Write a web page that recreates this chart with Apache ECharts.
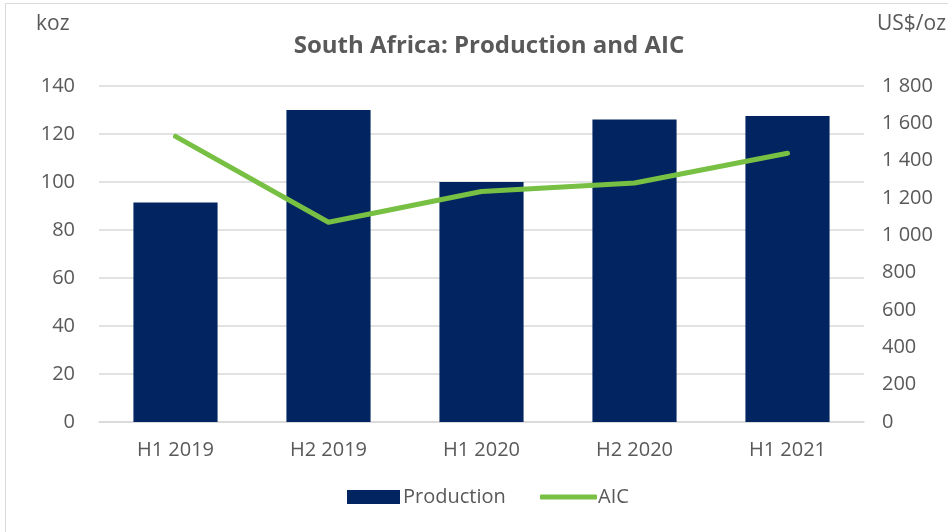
<!DOCTYPE html>
<html>
<head>
<meta charset="utf-8">
<script src="https://cdn.jsdelivr.net/npm/echarts@6/dist/echarts.min.js"></script>
<style>
  html, body { margin: 0; padding: 0; background: #fff; }
  #chart { width: 948px; height: 532px; }
</style>
</head>
<body>
<div id="chart"></div>
<script>
// Half-year periods
const categories = ['H1 2019', 'H2 2019', 'H1 2020', 'H2 2020', 'H1 2021'];
// Production, koz
const production = [91.5, 130, 100, 126, 127.5];
// All-in cost, US$/oz
const aic = [1530, 1070, 1235, 1280, 1440];

const FONT = "'Open Sans', sans-serif";
const TEXT = '#595959';
const BAR = '#022561';
const LINE = '#77c043';

const chart = echarts.init(document.getElementById('chart'));
chart.setOption({
  backgroundColor: '#fff',
  animation: false,
  textStyle: { fontFamily: FONT },
  title: {
    text: 'South Africa: Production and AIC',
    left: 484, top: 29, textAlign: 'center',
    textStyle: { fontFamily: FONT, fontSize: 24, fontWeight: 'bold', color: TEXT }
  },
  graphic: [
    { type: 'rect', shape: { x: 5.5, y: 3.5, width: 960, height: 540 },
      style: { fill: 'none', stroke: '#d9d9d9', lineWidth: 1 }, silent: true },
    { type: 'text', left: 36, top: 14,
      style: { text: 'koz', font: "21px " + FONT, fill: TEXT } },
    { type: 'text', left: 877, top: 14,
      style: { text: 'US$/oz', font: "21px " + FONT, fill: TEXT } }
  ],
  legend: [
    {
      left: 342, top: 482, itemWidth: 53, itemHeight: 14,
      textStyle: { fontFamily: FONT, fontSize: 20, color: TEXT, padding: [0, 0, 0, -2] },
      data: [{ name: 'Production', icon: 'rect' }]
    },
    {
      left: 535, top: 482, itemWidth: 57, itemHeight: 5,
      textStyle: { fontFamily: FONT, fontSize: 20, color: TEXT, padding: [0, 0, 0, -4] },
      data: [{ name: 'AIC', icon: 'roundRect' }]
    }
  ],
  grid: { left: 99, right: 84, top: 86, bottom: 110 },
  xAxis: {
    type: 'category',
    data: categories,
    axisLine: { lineStyle: { color: '#d9d9d9', width: 1.5 } },
    axisTick: { show: false },
    axisLabel: { color: TEXT, fontSize: 20, fontFamily: FONT, margin: 18 }
  },
  yAxis: [
    {
      type: 'value', min: 0, max: 140, interval: 20,
      axisLine: { show: false }, axisTick: { show: false },
      axisLabel: { color: TEXT, fontSize: 20, fontFamily: FONT, margin: 24 },
      splitLine: { lineStyle: { color: '#d9d9d9', width: 1.5 } }
    },
    {
      type: 'value', min: 0, max: 1800, interval: 200,
      axisLine: { show: false }, axisTick: { show: false },
      axisLabel: {
        color: TEXT, fontSize: 20, fontFamily: FONT, margin: 18,
        formatter: v => String(v).replace(/\B(?=(\d{3})+(?!\d))/g, ' ')
      },
      splitLine: { show: false }
    }
  ],
  series: [
    {
      name: 'Production', type: 'bar', yAxisIndex: 0,
      data: production, barWidth: '55%',
      itemStyle: { color: BAR }
    },
    {
      name: 'AIC', type: 'line', yAxisIndex: 1,
      data: aic, symbol: 'none',
      lineStyle: { color: LINE, width: 5, cap: 'round', join: 'round' },
      itemStyle: { color: LINE }
    }
  ]
});
</script>
</body>
</html>
